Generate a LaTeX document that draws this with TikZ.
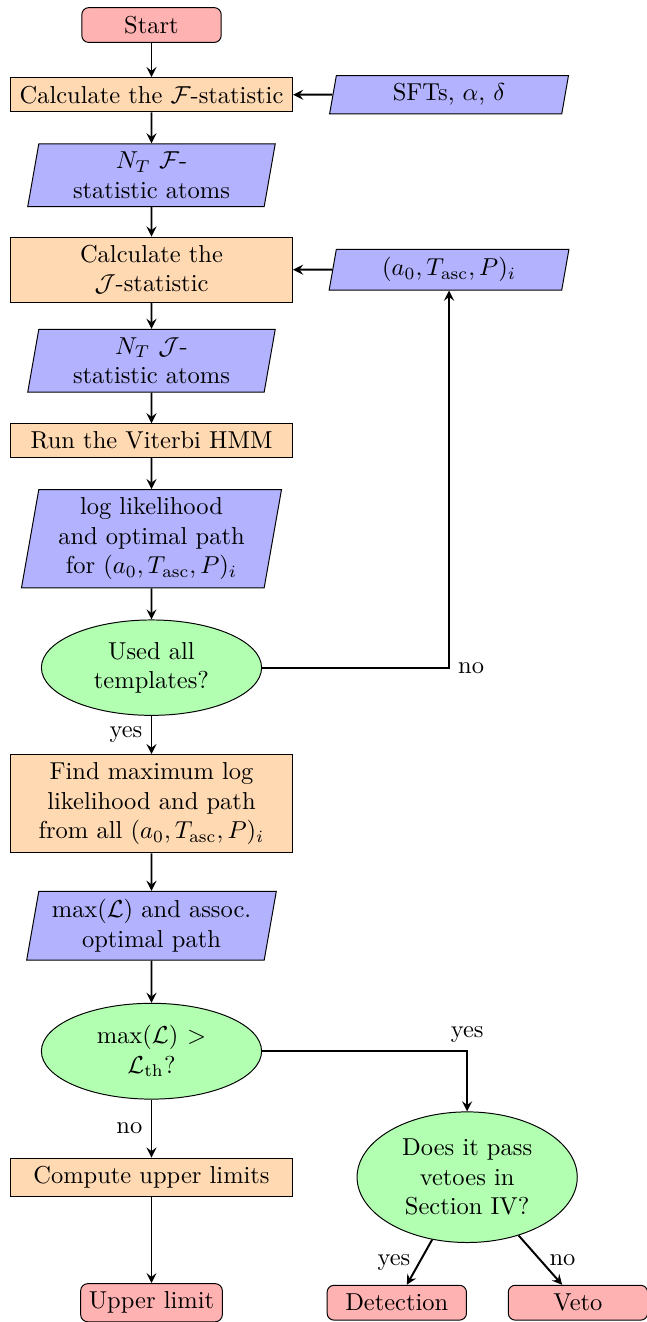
\documentclass[tikz,border=0pt]{standalone}
\usepackage{amsmath}
\usepackage{amssymb}
\usetikzlibrary{shapes.geometric,arrows}
\tikzstyle{terminal} = [rectangle, draw, fill=red!30, rounded corners=1mm,
  minimum width=2cm, minimum height=0.5cm, text centered]
\tikzstyle{process} = [rectangle, draw, fill=orange!30, minimum width=4.05cm,
  align=center]
\tikzstyle{io} = [trapezium, trapezium left angle=80, trapezium right angle=100,
  draw, fill=blue!30, text width=3cm, text centered]
\tikzstyle{decision} = [ellipse, draw, fill=green!30, text width=2cm, text centered]
\tikzstyle{line} = [draw, -stealth, thick]

\begin{document}
\begin{tikzpicture}[node distance=1.8cm]
    \useasboundingbox (-2.174,0.359) rectangle (7.110,-18.612);
    \node[terminal] (start) {Start};
    \node[process, below of=start, node distance=1cm] (calcF) {Calculate the $\mathcal{F}$-statistic};
    \node[io, right of=calcF, node distance=4.27cm] (sfts) {SFTs, $\alpha$, $\delta$};
    \node[io, below of=calcF, node distance=1.155cm] (atomsF) {$N_T$ $\mathcal{F}$-\\statistic atoms};
    \node[process, below of=atomsF, node distance=1.356cm] (calcJ) {Calculate the\\ $\mathcal{J}$-statistic};
    \node[io, right of=calcJ, node distance=4.27cm] (params) {$(a_0, T_\mathrm{asc}, P)_i$};
    \node[io, below of=calcJ, node distance=1.306cm] (atomsJ) {$N_T$ $\mathcal{J}$-\\statistic atoms};
    \node[process, below of=atomsJ, node distance=1.148cm] (viterbi) {Run the Viterbi HMM};
    \node[io, below of=viterbi, node distance=1.406cm] (loglik) {log likelihood\\ and optimal path\\ for $(a_0, T_\mathrm{asc}, P)_i$};
    \node[decision, below of=loglik, node distance=1.851cm] (used) {Used all\\ templates?};
    \node[process, below of=used, node distance=1.952cm] (findmax) {Find maximum log\\ likelihood and path\\ from all $(a_0, T_\mathrm{asc}, P)_i$};
    \node[io, below of=findmax, node distance=1.751cm] (maxL) {$\max(\mathcal{L})$ and assoc.\\ optimal path};
    \node[decision, below of=maxL, node distance=1.801cm] (cond) {$\max(\mathcal{L}) >$\\ $\mathcal{L}_\mathrm{th}$?};
    \node[process, below of=cond, node distance=1.808cm] (upper) {Compute upper limits};
    \node[decision, right of=upper, node distance=4.53cm] (pass) {Does it pass\\ vetoes in\\ Section IV?};
    \node[terminal, below of=upper, node distance=1.801cm] (uplimit) {Upper limit};
    \node[terminal, right of=uplimit, node distance=3.52cm] (detect) {Detection};
    \node[terminal, right of=detect, node distance=2.6cm] (veto) {Veto};

    \path[line] (start) -- (calcF);
    \path[line] (sfts) -- (calcF);
    \path[line] (calcF) -- (atomsF);
    \path[line] (atomsF) -- (calcJ);
    \path[line] (params) -- (calcJ);
    \path[line] (calcJ) -- (atomsJ);
    \path[line] (atomsJ) -- (viterbi);
    \path[line] (viterbi) -- (loglik);
    \path[line] (loglik) -- (used);
    \path[line] (used) -- node[left] {yes} (findmax);
    \path[line] (used) -| node[right] {no} (params);
    \path[line] (findmax) -- (maxL);
    \path[line] (maxL) -- (cond);
    \path[line] (cond) -- node[left] {no} (upper);
    \path[line] (cond) -| node[above] {yes} (pass);
    \path[line] (upper) -- (uplimit);
    \path[line] (pass) -- node[left] {yes} (detect);
    \path[line] (pass) -- node[right] {no} (veto);
\end{tikzpicture}
\end{document}
